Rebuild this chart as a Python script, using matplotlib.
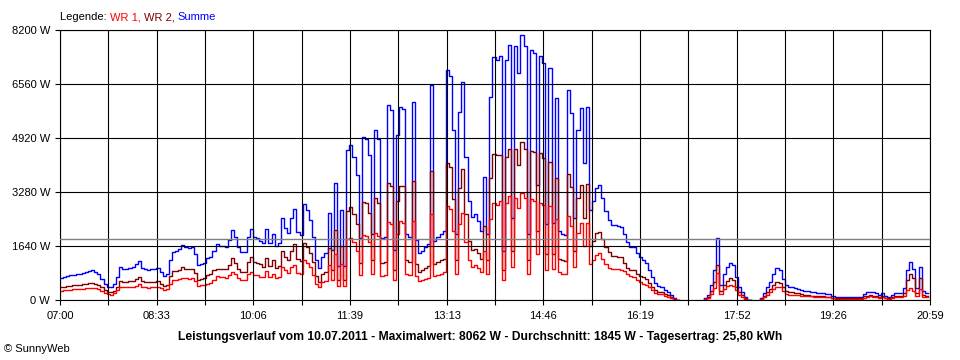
import matplotlib
matplotlib.use('Agg')
import matplotlib.pyplot as plt
import numpy as np

# samples every 3 minutes from 07:00 (None = inverter off)
step_min = 3
wr1 = [
    280, 290, 300, 310, 320, 325, 330, 335, 350, 365,
    375, 360, 330, 270, 210, 170, 160, 200, 290, 410,
    380, 390, 400, 410, 440, 490, 400, 390, 375, 380,
    390, 395, 350, 300, 330, 480, 600, 620, 640, 680,
    660, 640, 670, 580, 440, 450, 460, 500, 520, 600,
    740, 700, 690, 680, 760, 860, 800, 670, 610, 610,
    780, 850, 760, 750, 700, 710, 880, 700, 800, 680,
    700, 1000, 900, 810, 1000, 1060, 830, 790, 1210, 1120,
    1000, 760, 480, 400, 540, 580, 1050, 620, 1400, 420,
    1100, 420, 1850, 1870, 1750, 1500, 750, 1970, 1950, 1750,
    800, 2050, 1950, 740, 760, 2380, 2300, 610, 2000, 2400,
    2350, 800, 760, 2400, 730, 580, 600, 640, 680, 2600,
    720, 760, 800, 850, 2850, 2750, 2100, 800, 2300, 2650,
    1750, 1200, 1000, 1050, 960, 840, 1500, 800, 2470, 2950,
    2900, 3000, 600, 2950, 3150, 1000, 3100, 2800, 3250, 3100,
    800, 3080, 3000, 1400, 2950, 2900, 900, 2850, 930, 2450,
    850, 800, 790, 2550, 2250, 1000, 2050, 2330, 1650, 2350,
    1100, 1200, 1380, 1420, 1250, 1100, 980, 950, 950, 940,
    920, 870, 780, 720, 700, 620, 560, 500, 470, 380,
    290, 210, 180, 170, 130, 100, 60, 25, 0, None,
    None, None, None, None, None, None, None, 20, 60, 180,
    360, 810, 180, 320, 420, 470, 440, 290, 160, 90,
    40, 0, None, None, None, 25, 80, 160, 230, 330,
    400, 380, 270, 190, 160, 150, 140, 140, 130, 125,
    115, 110, 105, 100, 100, 95, 90, 80, 50, 40,
    40, 35, 35, 35, 35, 35, 35, 35, 70, 100,
    115, 100, 90, 60, 95, 55, 40, 60, 80, 85,
    90, 130, 300, 360, 280, 130, 330, 100, 85, 80,
]
wr2 = [
    385, 400, 430, 440, 450, 460, 470, 480, 500, 520,
    525, 500, 460, 380, 290, 240, 230, 280, 410, 590,
    550, 550, 580, 590, 640, 700, 580, 560, 535, 550,
    560, 565, 500, 430, 470, 720, 870, 880, 900, 990,
    940, 930, 950, 820, 610, 630, 655, 770, 800, 900,
    950, 940, 950, 930, 1050, 1265, 1120, 930, 860, 860,
    1140, 1300, 1160, 1130, 1100, 1010, 1290, 1020, 1200, 960,
    1020, 1480, 1300, 1210, 1500, 1700, 1250, 1190, 1720, 1610,
    1420, 1140, 730, 560, 780, 840, 1580, 900, 2140, 600,
    1630, 600, 2700, 2830, 2600, 2300, 1120, 2990, 2950, 2650,
    1200, 3110, 2950, 1130, 1160, 3540, 3470, 910, 3000, 3470,
    3450, 1200, 1140, 3600, 1090, 850, 900, 960, 1020, 3930,
    1080, 1140, 1200, 1250, 4150, 4050, 3060, 1200, 3400, 3980,
    2600, 1800, 1530, 1550, 1440, 1260, 2250, 1200, 3700, 4440,
    4390, 4400, 900, 4350, 4600, 1500, 4600, 4100, 4812, 4600,
    1200, 4520, 4500, 2100, 4450, 4300, 1400, 4200, 1400, 3700,
    1250, 1200, 1180, 3830, 3420, 1500, 3100, 3490, 2500, 3520,
    1630, 1800, 2020, 2080, 1850, 1600, 1450, 1330, 1330, 1320,
    1300, 1130, 970, 900, 900, 800, 740, 700, 650, 530,
    400, 300, 250, 235, 185, 150, 90, 35, 0, None,
    None, None, None, None, None, None, None, 30, 90, 270,
    540, 1060, 275, 460, 580, 665, 610, 410, 240, 140,
    60, 0, None, None, None, 35, 120, 240, 330, 470,
    560, 520, 380, 280, 250, 240, 220, 200, 170, 160,
    150, 135, 125, 120, 115, 110, 100, 90, 70, 60,
    55, 55, 55, 55, 55, 55, 55, 55, 110, 130,
    140, 130, 110, 90, 125, 75, 60, 90, 120, 125,
    130, 220, 610, 790, 670, 220, 660, 160, 125, 120,
]
avg_w = 1845
y_ticks = [0, 1640, 3280, 4920, 6560, 8200]
x_labels = ['07:00', '08:33', '10:06', '11:39', '13:13', '14:46', '16:19', '17:52', '19:26', '20:59']
day_minutes = 839
title = 'Leistungsverlauf vom 10.07.2011 - Maximalwert: 8062 W - Durchschnitt: 1845 W - Tagesertrag: 25,80 kWh'

wr1 = np.array(wr1, dtype=float)
wr2 = np.array(wr2, dtype=float)
summe = wr1 + wr2
t = np.arange(len(wr1)) * step_min

plt.rcParams['font.family'] = ['Liberation Sans', 'DejaVu Sans']

fig = plt.figure(figsize=(9.6, 3.6), dpi=100)
ax = fig.add_axes([60/960, 60/360, 870/960, 270/360])

ax.plot(t, summe, color='#0000ff', lw=1.0, drawstyle='steps-post')
ax.plot(t, wr2, color='#800000', lw=1.0, drawstyle='steps-post')
ax.plot(t, wr1, color='#ff0000', lw=1.0, drawstyle='steps-post')
ax.axhline(avg_w, color='#808080', lw=1.0, zorder=3)

ax.set_xlim(0, day_minutes)
ax.set_ylim(0, 8200)
ax.set_yticks(y_ticks)
ax.set_yticklabels([f'{v} W' for v in y_ticks])
xt = np.linspace(0, day_minutes, 2 * len(x_labels) - 1)
ax.set_xticks(xt)
xl = []
for i in range(len(xt)):
    xl.append(x_labels[i // 2] if i % 2 == 0 else '')
ax.set_xticklabels(xl)

ax.grid(True, color='black', lw=0.8)
ax.set_axisbelow(False)
for s in ax.spines.values():
    s.set_color('black')
    s.set_linewidth(0.8)
ax.tick_params(length=3.6, width=0.8, labelsize=8, color='black')
ax.tick_params(axis='y', pad=3.6)
ax.tick_params(axis='x', pad=4.5)

fig.text(480/960, 1 - 337/360, title, ha='center', va='center', fontsize=8.7, fontweight='bold')
fig.text(4/960, 1 - 349/360, '© SunnyWeb', ha='left', va='center', fontsize=8)

# legend line at the top, one colour per part
renderer = fig.canvas.get_renderer()
x = 60/960
for s, c in [('Legende: ', 'black'), ('WR 1, ', '#ff0000'), ('WR 2, ', '#800000'), ('Summe', '#0000ff')]:
    txt = fig.text(x, 1 - 17/360, s, color=c, ha='left', va='center', fontsize=8)
    x += txt.get_window_extent(renderer).width / fig.bbox.width

fig.savefig('out.png', dpi=100)
